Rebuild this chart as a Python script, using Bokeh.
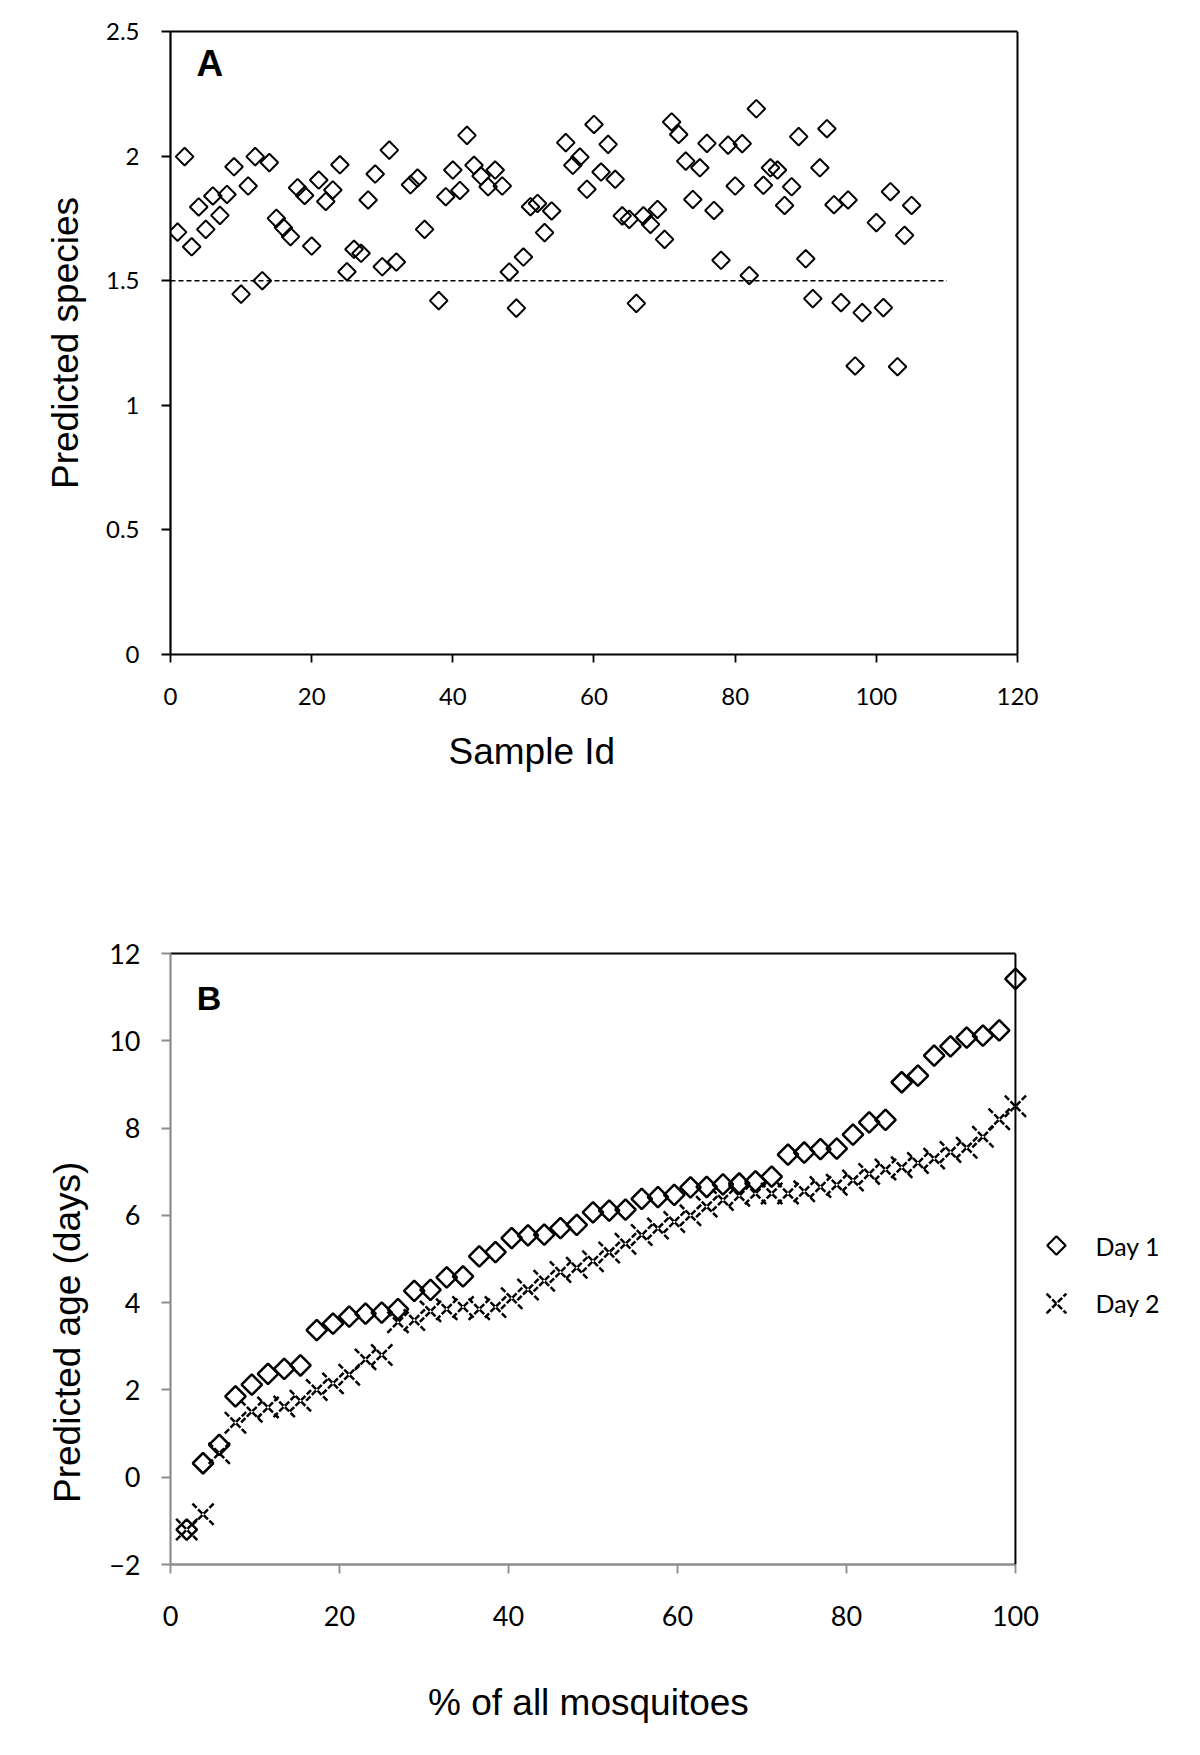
import math
from bokeh.plotting import figure
from bokeh.models import Span, FixedTicker, LinearAxis, Title
from bokeh.layouts import column
from bokeh.embed import file_html
from bokeh.resources import INLINE
from bokeh.core.properties import value

# ---------------- Panel A data ----------------
sample_id = [1, 2, 3, 4, 5, 6, 7, 8, 9, 10, 11, 12, 13, 14, 15, 16, 17, 18, 19, 20,
             21, 22, 23, 24, 25, 26, 27, 28, 29, 30, 31, 32, 34, 35, 36, 38, 39, 40,
             41, 42, 43, 44, 45, 46, 47, 48, 49, 50, 51, 52, 53, 54, 56, 57, 58, 59, 60,
             61, 62, 63, 64, 65, 66, 67, 68, 69, 70, 71, 72, 73, 74, 75, 76, 77, 78, 79, 80,
             81, 82, 83, 84, 85, 86, 87, 88, 89, 90, 91, 92, 93, 94, 95, 96, 97, 98,
             100, 101, 102, 103, 104, 105]
predicted_species = [1.695, 1.998, 1.636, 1.796, 1.706, 1.840, 1.762, 1.846, 1.957, 1.446,
                     1.880, 1.998, 1.500, 1.974, 1.750, 1.713, 1.677, 1.873, 1.842, 1.639,
                     1.904, 1.818, 1.864, 1.965, 1.536, 1.626, 1.610, 1.824, 1.928, 1.556,
                     2.024, 1.575, 1.885, 1.912, 1.706, 1.420, 1.837, 1.944,
                     1.862, 2.083, 1.963, 1.920, 1.877, 1.944, 1.880, 1.535, 1.390, 1.595,
                     1.797, 1.810, 1.693, 1.780, 2.054, 1.963, 1.996, 1.867, 2.127,
                     1.936, 2.047, 1.907, 1.760, 1.746, 1.409, 1.760, 1.726, 1.786, 1.666,
                     2.137, 2.087, 1.980, 1.826, 1.953, 2.051, 1.782, 1.582, 2.044, 1.880,
                     2.050, 1.521, 2.190, 1.883, 1.953, 1.944, 1.802, 1.877, 2.078, 1.588,
                     1.428, 1.953, 2.110, 1.805, 1.412, 1.824, 1.158, 1.372,
                     1.733, 1.392, 1.857, 1.155, 1.682, 1.802]
threshold_x = [0, 110]
threshold_y = [1.5, 1.5]
a_xlim = (0, 120)
a_ylim = (0, 2.5)
a_xticks = [0, 20, 40, 60, 80, 100, 120]
a_yticks = [0, 0.5, 1, 1.5, 2, 2.5]
a_ytick_labels = ["0", "0.5", "1", "1.5", "2", "2.5"]

# ---------------- Panel B data ----------------
pct_mosquitoes = [1.92, 3.85, 5.77, 7.69, 9.62, 11.54, 13.46, 15.38, 17.31, 19.23,
                  21.15, 23.08, 25.00, 26.92, 28.85, 30.77, 32.69, 34.62, 36.54, 38.46,
                  40.38, 42.31, 44.23, 46.15, 48.08, 50.00, 51.92, 53.85, 55.77, 57.69,
                  59.62, 61.54, 63.46, 65.38, 67.31, 69.23, 71.15, 73.08, 75.00, 76.92,
                  78.85, 80.77, 82.69, 84.62, 86.54, 88.46, 90.38, 92.31, 94.23, 96.15,
                  98.08, 100.00]
day1_age = [-1.20, 0.32, 0.74, 1.85, 2.12, 2.37, 2.48, 2.56, 3.37, 3.52,
            3.68, 3.75, 3.77, 3.85, 4.27, 4.29, 4.58, 4.60, 5.06, 5.16,
            5.48, 5.54, 5.56, 5.71, 5.78, 6.07, 6.11, 6.13, 6.38, 6.42,
            6.47, 6.64, 6.65, 6.71, 6.73, 6.78, 6.89, 7.39, 7.44, 7.52,
            7.53, 7.85, 8.13, 8.19, 9.05, 9.20, 9.66, 9.87, 10.07, 10.12,
            10.24, 11.42]
day2_age = [-1.20, -0.85, 0.55, 1.25, 1.50, 1.60, 1.62, 1.75, 2.00, 2.15,
            2.35, 2.70, 2.80, 3.55, 3.60, 3.80, 3.85, 3.90, 3.85, 3.90,
            4.10, 4.30, 4.50, 4.70, 4.80, 4.95, 5.15, 5.35, 5.55, 5.70,
            5.85, 6.00, 6.20, 6.35, 6.45, 6.50, 6.50, 6.50, 6.55, 6.65,
            6.70, 6.80, 6.95, 7.05, 7.10, 7.20, 7.30, 7.45, 7.55, 7.80,
            8.20, 8.50]
series_labels = ["Day 1", "Day 2"]
b_xlim = (0, 100)
b_ylim = (-2, 12)
b_xticks = [0, 20, 40, 60, 80, 100]
b_yticks = [-2, 0, 2, 4, 6, 8, 10, 12]

TITLE_FONT = "Liberation Sans"
TICK_FONT = "Lato"

# frame spans x 170..1189 in both panels; the boxed plot ends at the axis bound,
# the free area to its right holds the legend of panel B
A_X_END = 144.37
B_X_END = 120.6


def style_axis(ax, color, lw, tick_out, font_size, standoff):
    ax.axis_line_color = color
    ax.axis_line_width = lw
    ax.major_tick_line_color = color
    ax.major_tick_line_width = 1.8
    ax.major_tick_in = 0
    ax.major_tick_out = tick_out
    ax.minor_tick_line_color = None
    ax.major_label_text_font = TICK_FONT
    ax.major_label_text_font_size = font_size
    ax.major_label_text_color = "black"
    ax.major_label_standoff = standoff
    ax.axis_label_text_font = TITLE_FONT
    ax.axis_label_text_font_size = "37px"
    ax.axis_label_text_font_style = "normal"
    ax.axis_label_text_color = "black"


def border_axis(bounds, color, lw):
    return LinearAxis(bounds=bounds, ticker=FixedTicker(ticks=[]), axis_line_color=color,
                      axis_line_width=lw, major_tick_line_color=None,
                      minor_tick_line_color=None)


def spacer_axis(height, at):
    # an invisible axis (white tick on white, no label) that only reserves room
    return LinearAxis(ticker=FixedTicker(ticks=[at]), axis_line_color=None,
                      major_tick_line_color="white", major_tick_line_width=1,
                      major_tick_in=0, major_tick_out=height, major_label_standoff=0,
                      major_label_overrides={at: ""}, major_label_text_alpha=0,
                      major_label_text_font_size="1px", minor_tick_line_color=None)


# ================= Panel A =================
pA = figure(width=1200, height=812, x_range=(0, A_X_END), y_range=a_ylim,
            output_backend="svg", toolbar_location=None,
            min_border_left=170, min_border_right=11, min_border_top=31, min_border_bottom=158)
pA.xgrid.visible = False
pA.ygrid.visible = False
pA.outline_line_color = None
style_axis(pA.xaxis[0], "black", 2.2, 8, "24px", 25)
style_axis(pA.yaxis[0], "black", 2.2, 9, "24px", 22)
pA.xaxis.bounds = a_xlim
pA.xaxis.ticker = FixedTicker(ticks=a_xticks)
pA.yaxis.ticker = FixedTicker(ticks=a_yticks)
pA.yaxis.major_label_overrides = dict(zip(a_yticks, a_ytick_labels))
pA.yaxis.axis_label = "Predicted species"
pA.yaxis.axis_label_standoff = 17
pA.add_layout(border_axis(a_xlim, "black", 2), "above")
pA.add_layout(Span(location=a_xlim[1], dimension="height", line_color="black", line_width=2))

pA.line(threshold_x, threshold_y, line_color="black", line_width=1.6, line_dash="5 3")
pA.scatter(sample_id, predicted_species, marker="square", angle=math.pi / 4, size=12.5,
           fill_color=None, line_color="black", line_width=2)

pA.text(x=[3.7], y=[2.372], text=["A"], text_font=value(TITLE_FONT), text_font_style="bold",
        text_font_size="37px", text_baseline="alphabetic", text_color="black")
pA.add_layout(Title(text="Sample  Id", align="left", offset=278, vertical_align="top",
                    standoff=46, text_font=TITLE_FONT, text_font_size="37px",
                    text_font_style="normal", text_color="black"), "below")

# ================= Panel B =================
pB = figure(width=1200, height=942, x_range=(0, B_X_END), y_range=b_ylim,
            output_backend="svg", toolbar_location=None,
            min_border_left=170, min_border_right=11, min_border_top=141, min_border_bottom=190)
pB.xgrid.visible = False
pB.ygrid.visible = False
pB.outline_line_color = None
style_axis(pB.xaxis[0], "#8c8c8c", 2.6, 9, "27px", 32)
style_axis(pB.yaxis[0], "#8c8c8c", 2.2, 9, "27px", 21)
pB.xaxis.bounds = b_xlim
pB.xaxis.ticker = FixedTicker(ticks=b_xticks)
pB.yaxis.ticker = FixedTicker(ticks=b_yticks)
pB.add_layout(border_axis(b_xlim, "black", 2), "above")
pB.add_layout(Span(location=b_xlim[1], dimension="height", line_color="black", line_width=2))

pB.scatter(pct_mosquitoes, day1_age, marker="square", angle=math.pi / 4, size=14.5,
           fill_color=None, line_color="black", line_width=2.5)
pB.scatter(pct_mosquitoes, day2_age, marker="x", size=30,
           line_color="black", line_width=2.5, line_dash="6 2")

# legend (outside the boxed plot, right of x = 100)
LEG_X = 104.85
LEG_MARK_Y = [5.31, 3.98]
LEG_TEXT_X = 109.47
LEG_TEXT_Y = [5.29, 3.99]
pB.scatter([LEG_X], [LEG_MARK_Y[0]], marker="square", angle=math.pi / 4, size=13,
           fill_color=None, line_color="black", line_width=2.2)
pB.scatter([LEG_X], [LEG_MARK_Y[1]], marker="x", size=28, line_color="black",
           line_width=2.5, line_dash="6 2")
pB.text(x=[LEG_TEXT_X, LEG_TEXT_X], y=LEG_TEXT_Y, text=series_labels,
        text_font=value(TICK_FONT), text_font_size="25px", text_baseline="alphabetic",
        text_color="black")

pB.text(x=[3.1], y=[10.98], text=["B"], text_font=value(TITLE_FONT), text_font_style="bold",
        text_font_size="34px", text_baseline="alphabetic", text_color="black")
pB.add_layout(Title(text="Predicted age (days)", align="left", offset=61.5,
                    vertical_align="bottom", standoff=38, text_font=TITLE_FONT,
                    text_font_size="37px", text_font_style="normal", text_color="black"), "left")
pB.add_layout(spacer_axis(48, 110), "below")
pB.add_layout(Title(text="% of all mosquitoes", align="left", offset=257.5,
                    vertical_align="top", standoff=10, text_font=TITLE_FONT,
                    text_font_size="37px", text_font_style="normal", text_color="black"), "below")

layout = column(pA, pB)
open("out.html", "w").write(file_html(layout, INLINE))
